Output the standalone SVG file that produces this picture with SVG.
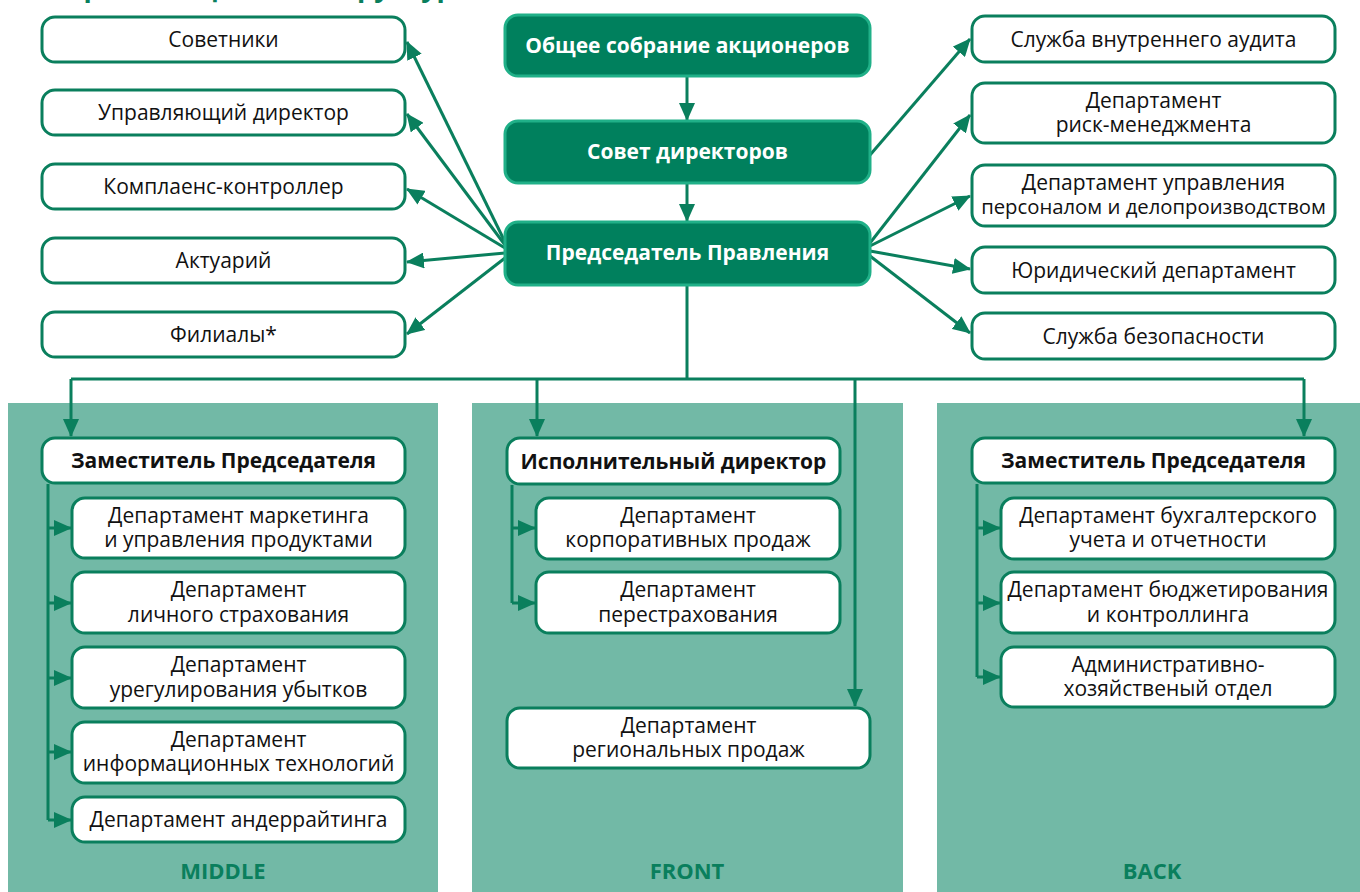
<svg xmlns="http://www.w3.org/2000/svg" width="1360" height="892" viewBox="0 0 1360 892">
<defs>
<style>
.box{fill:#fff;stroke:#0a7f5d;stroke-width:3}
.top{fill:#00805d;stroke:#20b088;stroke-width:3}
.panel{fill:#72b9a6}
.t{font-family:"Open Sans","Noto Sans",sans-serif;font-size:21px;fill:#111;text-anchor:middle}
.b{font-family:"Open Sans","Noto Sans",sans-serif;font-size:21px;font-weight:bold;fill:#111;text-anchor:middle}
.w{font-family:"Open Sans","Noto Sans",sans-serif;font-size:21px;font-weight:bold;fill:#fff;text-anchor:middle}
.lab{font-family:"Open Sans","Noto Sans",sans-serif;font-size:22px;font-weight:bold;fill:#0a7f5d;text-anchor:middle}
.c{fill:none;stroke:#0a7f5d;stroke-width:3}
.a{marker-end:url(#arr)}
</style>
<marker id="arr" markerUnits="userSpaceOnUse" markerWidth="18" markerHeight="16" viewBox="0 0 18 16" refX="17" refY="8" orient="auto">
<path d="M0 0 L18 8 L0 16 Z" fill="#0a7f5d"/>
</marker>
</defs>
<rect width="1360" height="892" fill="#fff"/>
<text x="62" y="-3" font-family="Open Sans, sans-serif" font-size="27" font-weight="bold" fill="#0a7f5d">Организационная структура</text>

<g id="panels">
<rect class="panel" x="8" y="403" width="430" height="489"/>
<rect class="panel" x="472" y="403" width="431" height="489"/>
<rect class="panel" x="937" y="403" width="423" height="489"/>
<text class="lab" x="223" y="879">MIDDLE</text>
<text class="lab" x="687" y="879">FRONT</text>
<text class="lab" x="1152" y="879">BACK</text>
</g>

<g id="connectors">
<path class="c a" d="M687 77 V120"/>
<path class="c a" d="M687 184 V221"/>
<path class="c a" d="M505 242 L407 42"/>
<path class="c a" d="M505 245 L407 114"/>
<path class="c a" d="M505 248 L407 189"/>
<path class="c a" d="M505 253 L407 262"/>
<path class="c a" d="M505 258 L407 334"/>
<path class="c a" d="M870 155 L970 39"/>
<path class="c a" d="M870 243 L970 115"/>
<path class="c a" d="M870 246 L970 196"/>
<path class="c a" d="M870 251 L970 269"/>
<path class="c a" d="M870 256 L970 333"/>
<path class="c" d="M687 286 V379 M71 379 H1304"/>
<path class="c a" d="M71 379 V436"/>
<path class="c a" d="M537 379 V436"/>
<path class="c a" d="M855 379 V706"/>
<path class="c a" d="M1304 379 V436"/>
<path class="c" d="M48 484 V820"/>
<path class="c a" d="M48 528 H71"/>
<path class="c a" d="M48 603 H71"/>
<path class="c a" d="M48 678 H71"/>
<path class="c a" d="M48 752 H71"/>
<path class="c a" d="M48 820 H71"/>
<path class="c" d="M512 485 V603"/>
<path class="c a" d="M512 528 H535"/>
<path class="c a" d="M512 603 H535"/>
<path class="c" d="M977 484 V677"/>
<path class="c a" d="M977 528 H1000"/>
<path class="c a" d="M977 603 H1000"/>
<path class="c a" d="M977 677 H1000"/>
</g>

<g id="n-obshee"><rect class="top" x="505" y="15" width="365" height="61" rx="13"/><text class="w" x="687.5" y="53">Общее собрание акционеров</text></g>
<g id="n-sovet"><rect class="top" x="505" y="121" width="365" height="62" rx="13"/><text class="w" x="687.5" y="158.5">Совет директоров</text></g>
<g id="n-pred"><rect class="top" x="505" y="222" width="365" height="63" rx="13"/><text class="w" x="687.5" y="260">Председатель Правления</text></g>

<g id="n-sovetniki"><rect class="box" x="42" y="17" width="363" height="45" rx="13"/><text class="t" x="223.5" y="47">Советники</text></g>
<g id="n-upr"><rect class="box" x="42" y="90" width="363" height="45" rx="13"/><text class="t" x="223.5" y="120">Управляющий директор</text></g>
<g id="n-kompl"><rect class="box" x="42" y="164" width="363" height="45" rx="13"/><text class="t" x="223.5" y="194">Комплаенс-контроллер</text></g>
<g id="n-akt"><rect class="box" x="42" y="238" width="363" height="45" rx="13"/><text class="t" x="223.5" y="268">Актуарий</text></g>
<g id="n-fil"><rect class="box" x="42" y="312" width="363" height="45" rx="13"/><text class="t" x="223.5" y="342">Филиалы*</text></g>

<g id="n-audit"><rect class="box" x="972" y="16" width="363" height="46" rx="13"/><text class="t" x="1153.5" y="46.5">Служба внутреннего аудита</text></g>
<g id="n-risk"><rect class="box" x="972" y="83" width="363" height="60" rx="13"/><text class="t" x="1153.5" y="107.5">Департамент<tspan x="1153.5" dy="24">риск-менеджмента</tspan></text></g>
<g id="n-pers"><rect class="box" x="972" y="165" width="363" height="61" rx="13"/><text class="t" x="1153.5" y="189.5">Департамент управления<tspan x="1153.5" dy="24.5" font-size="20.3">персоналом и делопроизводством</tspan></text></g>
<g id="n-jur"><rect class="box" x="972" y="247" width="363" height="46" rx="13"/><text class="t" x="1153.5" y="277.5">Юридический департамент</text></g>
<g id="n-bez"><rect class="box" x="972" y="313" width="363" height="46" rx="13"/><text class="t" x="1153.5" y="343.5">Служба безопасности</text></g>

<g id="n-zam1"><rect class="box" x="42" y="438" width="363" height="45" rx="13"/><text class="b" x="223.5" y="468">Заместитель Председателя</text></g>
<g id="n-mark"><rect class="box" x="72" y="498" width="333" height="60" rx="13"/><text class="t" x="238.5" y="522.5">Департамент маркетинга<tspan x="238.5" dy="24">и управления продуктами</tspan></text></g>
<g id="n-lich"><rect class="box" x="72" y="572" width="333" height="61" rx="13"/><text class="t" x="238.5" y="597">Департамент<tspan x="238.5" dy="24.5">личного страхования</tspan></text></g>
<g id="n-ureg"><rect class="box" x="72" y="647" width="333" height="61" rx="13"/><text class="t" x="238.5" y="672">Департамент<tspan x="238.5" dy="24.5">урегулирования убытков</tspan></text></g>
<g id="n-it"><rect class="box" x="72" y="722" width="333" height="61" rx="13"/><text class="t" x="238.5" y="746.5">Департамент<tspan x="238.5" dy="24.5">информационных технологий</tspan></text></g>
<g id="n-and"><rect class="box" x="72" y="797" width="333" height="45" rx="13"/><text class="t" x="238.5" y="827">Департамент андеррайтинга</text></g>

<g id="n-isp"><rect class="box" x="507" y="438" width="333" height="46" rx="13"/><text class="b" x="673.5" y="468.5">Исполнительный директор</text></g>
<g id="n-korp"><rect class="box" x="536" y="498" width="304" height="61" rx="13"/><text class="t" x="688" y="522.5">Департамент<tspan x="688" dy="24.5">корпоративных продаж</tspan></text></g>
<g id="n-perestr"><rect class="box" x="536" y="572" width="304" height="61" rx="13"/><text class="t" x="688" y="597">Департамент<tspan x="688" dy="24.5">перестрахования</tspan></text></g>
<g id="n-reg"><rect class="box" x="507" y="708" width="363" height="60" rx="13"/><text class="t" x="688.5" y="732.5">Департамент<tspan x="688.5" dy="24">региональных продаж</tspan></text></g>

<g id="n-zam2"><rect class="box" x="972" y="438" width="363" height="45" rx="13"/><text class="b" x="1153.5" y="468">Заместитель Председателя</text></g>
<g id="n-buh"><rect class="box" x="1001" y="498" width="334" height="61" rx="13"/><text class="t" x="1168" y="522.5">Департамент бухгалтерского<tspan x="1168" dy="24.5">учета и отчетности</tspan></text></g>
<g id="n-budg"><rect class="box" x="1001" y="572" width="334" height="61" rx="13"/><text class="t" x="1168" y="597">Департамент бюджетирования<tspan x="1168" dy="24.5">и контроллинга</tspan></text></g>
<g id="n-adm"><rect class="box" x="1001" y="647" width="334" height="60" rx="13"/><text class="t" x="1168" y="671.5">Административно-<tspan x="1168" dy="24">хозяйственый отдел</tspan></text></g>
</svg>
